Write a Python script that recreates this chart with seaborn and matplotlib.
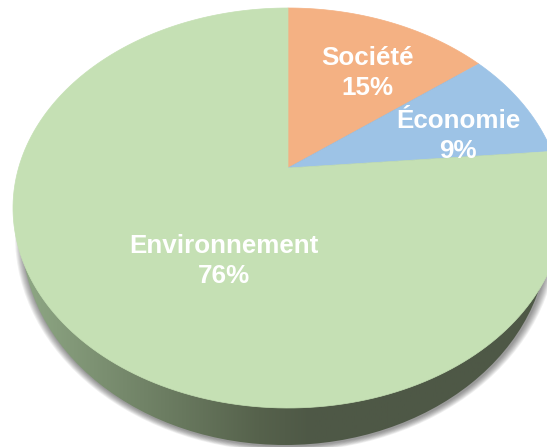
import numpy as np
import seaborn as sns
import matplotlib.pyplot as plt
from matplotlib.colors import LinearSegmentedColormap
from matplotlib.patches import Ellipse

# valeurs
categories = ["Société", "Économie", "Environnement"]
values = [14.6, 9.0, 76.4]
colors = ["#F4B183", "#9DC3E6", "#C5E0B4"]
label_pos = [(367, 73), (458, 136), (224, 261)]

sns.set_theme(style="white")
plt.rcParams["font.family"] = ["Liberation Sans", "DejaVu Sans"]

# dessus du camembert (ellipse) et pied des parts, decale par la perspective
cx, cy, a, b = 288, 208, 275, 200
k = 0.2


def project(theta):
    # angle (depuis le haut, sens horaire) -> pixel, le centre du disque part vers le haut
    u = np.sin(theta)
    v = np.cos(theta)
    den = 1 + k * v
    return cx + a * u * np.sqrt(1 - k**2) / den, cy - b * (v + k) / den


fig = plt.figure(figsize=(5.47, 4.47), dpi=100)
ax = fig.add_axes([0, 0, 1, 1])
ax.set_xlim(0, 547)
ax.set_ylim(447, 0)
ax.axis("off")

# ombre sous le tranchant
side_cx, side_cy, side_a, side_b = 285, 235, 263, 210
for i in range(8, 0, -1):
    ax.add_patch(Ellipse((side_cx + 1, side_cy + 1), 2 * (side_a + i), 2 * (side_b + i * 0.7),
                         fc="black", ec="none", alpha=0.06, zorder=1))

# tranchant avec degrade gauche -> droite
side_cmap = LinearSegmentedColormap.from_list(
    "side", [(0, "#8FA885"), (0.2, "#75886B"), (0.45, "#56624C"), (0.55, "#4E5846"), (1, "#4E5846")])
im = ax.imshow(np.linspace(0, 1, 256)[None, :], cmap=side_cmap, extent=(20, 550, 447, 0),
               aspect="auto", zorder=2)
clip = Ellipse((side_cx, side_cy), 2 * side_a, 2 * side_b, fc="none", ec="none", transform=ax.transData)
ax.add_patch(clip)
im.set_clip_path(clip)
ax.set_xlim(0, 547)
ax.set_ylim(447, 0)

# les parts
bounds = np.cumsum([0] + values) / 100 * 2 * np.pi
apex = (cx, cy - b * k)
for i in range(len(values)):
    t = np.linspace(bounds[i], bounds[i + 1], 200)
    x, y = project(t)
    ax.fill(np.r_[apex[0], x], np.r_[apex[1], y], color=colors[i], lw=0.5, zorder=3)

for name, val, pos in zip(categories, values, label_pos):
    ax.text(pos[0], pos[1], f"{name}\n{val:.0f}%", color="white", fontsize=18.7, fontweight="bold",
            ha="center", va="center", linespacing=1.3, zorder=4)

plt.savefig("out.png", dpi=100)
